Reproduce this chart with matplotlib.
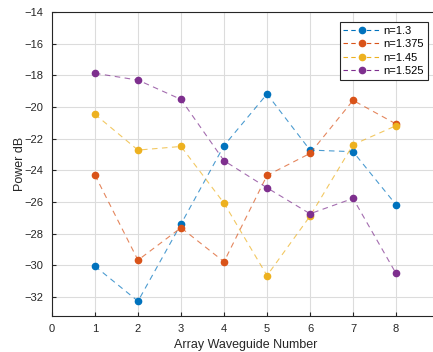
import numpy as np
import matplotlib.pyplot as plt

plt.rcParams['font.family'] = ['Liberation Sans', 'DejaVu Sans']

guide = [1, 2, 3, 4, 5, 6, 7, 8]
labels = ['n=1.3', 'n=1.375', 'n=1.45', 'n=1.525']
p13 = [-30.05, -32.26, -27.39, -22.44, -19.18, -22.72, -22.82, -26.17]
p1375 = [-24.30, -29.67, -27.62, -29.77, -24.32, -22.93, -19.58, -21.07]
p145 = [-20.46, -22.72, -22.49, -26.07, -30.64, -26.89, -22.38, -21.18]
p1525 = [-17.87, -18.30, -19.52, -23.39, -25.10, -26.74, -25.77, -30.51]
colors = ['#0072BD', '#D95319', '#EDB120', '#7E2F8E']

fig = plt.figure(figsize=(4.33, 3.52), dpi=100)
ax = fig.add_axes([0.120, 0.102, 0.894, 0.864])

for y, lab, c in zip([p13, p1375, p145, p1525], labels, colors):
    # dashed line a bit faded, markers solid
    ax.plot(guide, y, '--', color=c, lw=0.8, alpha=0.7, dashes=(5, 4))
    ax.plot(guide, y, 'o', color=c, ms=4.5)
    ax.plot([], [], '--o', color=c, lw=0.8, ms=4.5, dashes=(4, 3), label=lab)

ax.set_xlim(0, 9)
ax.set_ylim(-33.2, -14)
ax.set_xticks(range(0, 9))
ax.set_yticks(range(-32, -13, 2))
ax.grid(True, color='#dcdcdc', lw=0.8)
ax.set_axisbelow(True)
ax.tick_params(direction='in', labelsize=8, colors='#262626', length=3, pad=6)
for s in ax.spines.values():
    s.set_color('#262626')
    s.set_linewidth(0.8)
ax.set_xlabel('Array Waveguide Number', fontsize=9, color='#262626', labelpad=3)
ax.set_ylabel('Power dB', fontsize=9, color='#262626')
ax.yaxis.set_label_coords(-0.066, 0.5)

leg = ax.legend(loc='upper right', bbox_to_anchor=(0.971, 0.967), fontsize=8,
                handlelength=3.3, fancybox=False, framealpha=1, borderpad=0.35,
                labelspacing=0.3, handletextpad=0.3, borderaxespad=0)
leg.get_frame().set_edgecolor('#262626')
leg.get_frame().set_linewidth(0.8)

fig.savefig('out.png', dpi=100)
